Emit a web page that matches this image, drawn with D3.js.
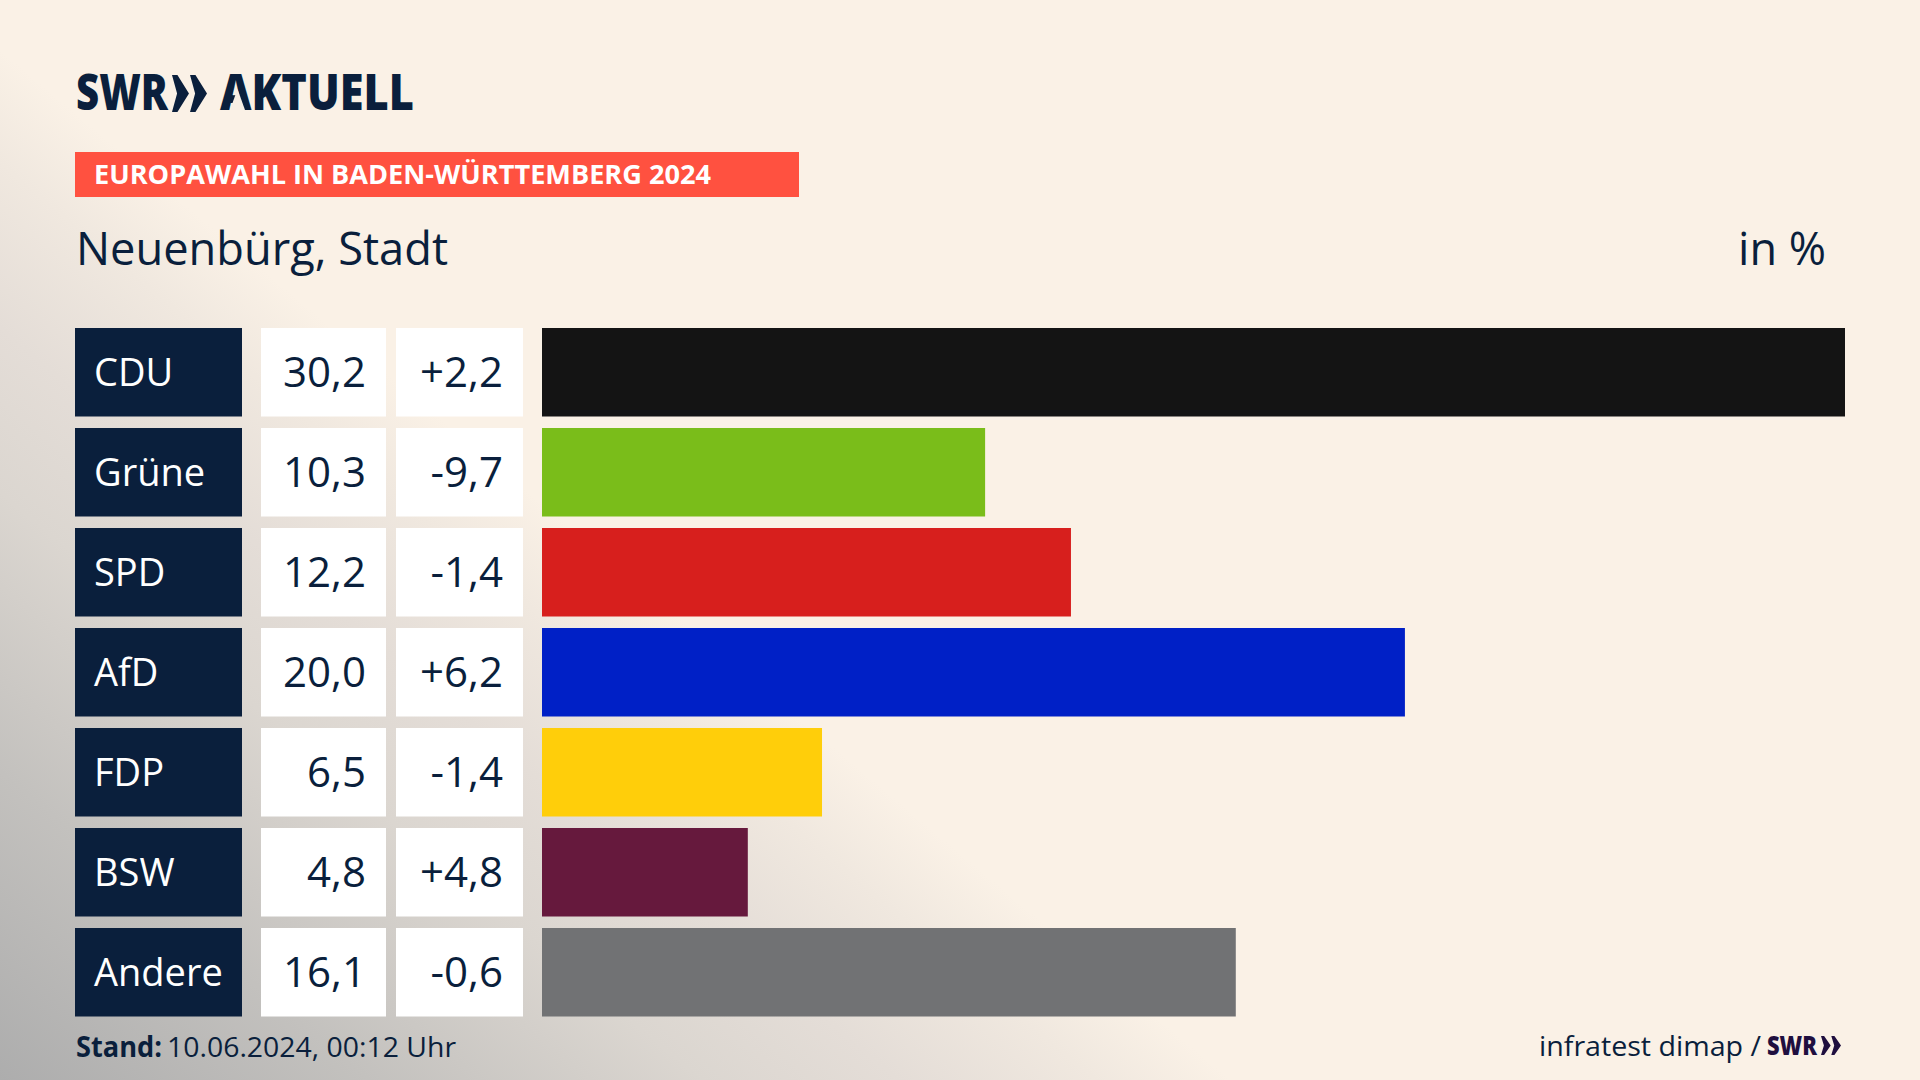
<!DOCTYPE html>
<html><head><meta charset="utf-8">
<script src="https://cdnjs.cloudflare.com/ajax/libs/d3/7.8.5/d3.min.js"></script>
<style>html,body{margin:0;padding:0;background:#fbf2e7;overflow:hidden}svg{display:block}
text{font-family:"Open Sans","Noto Sans",sans-serif}</style></head><body>
<svg id="c" width="1920" height="1080"></svg>
<script>
const parties=["CDU","Grüne","SPD","AfD","FDP","BSW","Andere"];
const shares=[30.2,10.27,12.26,20.0,6.49,4.77,16.08];
const shareLabels=["30,2","10,3","12,2","20,0","6,5","4,8","16,1"];
const changeLabels=["+2,2","-9,7","-1,4","+6,2","-1,4","+4,8","-0,6"];
const barColors=["#141414","#7abd1a","#d71f1d","#0020c6","#ffce0a","#66193d","#717274"];
const navy="#0a1f3c";
const svg=d3.select("#c");
const defs=svg.append("defs");
const g=defs.append("linearGradient").attr("id","bg").attr("gradientUnits","userSpaceOnUse")
 .attr("x1",0).attr("y1",1080).attr("x2",507).attr("y2",474);
[[0,"#adadad"],[.3,"#c3c1be"],[.57,"#dbd6d0"],[.73,"#e4ddd7"],[.89,"#f0e8df"],[1,"#faf1e6"]].forEach(s=>g.append("stop").attr("offset",s[0]).attr("stop-color",s[1]));
svg.append("rect").attr("width",1920).attr("height",1080).attr("fill","url(#bg)");

const y=d3.scaleBand().domain(parties).range([328,1016.5]).paddingInner(0.115);
const x=d3.scaleLinear().domain([0,30.2]).range([542,1845]);
const rows=parties.map((p,i)=>({p,v:shares[i],s:shareLabels[i],c:changeLabels[i],col:barColors[i]}));
const row=svg.selectAll("g.row").data(rows).join("g").attr("class","row").attr("transform",d=>`translate(0,${y(d.p)})`);
const h=y.bandwidth();
row.append("rect").attr("x",75).attr("width",167).attr("height",h).attr("fill",navy);
row.append("rect").attr("x",261).attr("width",125).attr("height",h).attr("fill","#fff");
row.append("rect").attr("x",396).attr("width",127).attr("height",h).attr("fill","#fff");
row.append("rect").attr("x",x(0)).attr("width",d=>x(d.v)-x(0)).attr("height",h).attr("fill",d=>d.col);
row.append("text").attr("x",94).attr("y",58).attr("font-size",38).attr("fill","#fff").text(d=>d.p);
row.append("text").attr("x",366).attr("y",58.5).attr("font-size",42).attr("text-anchor","end").attr("fill",navy).text(d=>d.s);
row.append("text").attr("x",503).attr("y",58.5).attr("font-size",42).attr("text-anchor","end").attr("fill",navy).text(d=>d.c);

function T(x,y,t,size,w,opts={}){const e=svg.append("text").attr("x",x).attr("y",y).attr("font-size",size).attr("fill",opts.fill||navy).attr("font-weight",opts.weight||400).text(t);
 if(w)e.attr("textLength",w).attr("lengthAdjust","spacingAndGlyphs");return e;}
function chev(x0,y0,w,hh,col){const gap=w*0.03,cw=(w-gap)/2,n=cw*0.3,t=cw*0.32;
 [0,cw+gap].forEach(o=>svg.append("path").attr("fill",col).attr("d",`M${x0+o},${y0}L${x0+o+t},${y0}L${x0+o+cw},${y0+hh/2}L${x0+o+t},${y0+hh}L${x0+o},${y0+hh}L${x0+o+n},${y0+hh/2}Z`));}
// logo
T(76,110,"SWR",49,92,{weight:800});
chev(172,75,35,37,navy);
T(220,110,"AKTUELL",49,194,{weight:800});
// open counter of the logo's letter A (the wordmark's A has no crossbar)
svg.append("path").attr("fill","#f7eee4").attr("d","M237.5,89L230,110L245,110Z");
// band
svg.append("rect").attr("x",75).attr("y",152).attr("width",724).attr("height",45).attr("fill","#ff5140");
T(94,184,"EUROPAWAHL IN BADEN-WÜRTTEMBERG 2024",26,617,{weight:700,fill:"#fff"});
T(76,265,"Neuenbürg, Stadt",46,372);
T(1738,265,"in %",46,88);
// footer
T(76,1057,"Stand:",28,86,{weight:700});
T(167,1057,"10.06.2024, 00:12 Uhr",28,289);
T(1539,1056,"infratest dimap /",28,222);
T(1767,1055,"SWR",26,50,{weight:800,fill:"#1f0f3f"});
chev(1821,1036,20,19,"#1f0f3f");
</script></body></html>
